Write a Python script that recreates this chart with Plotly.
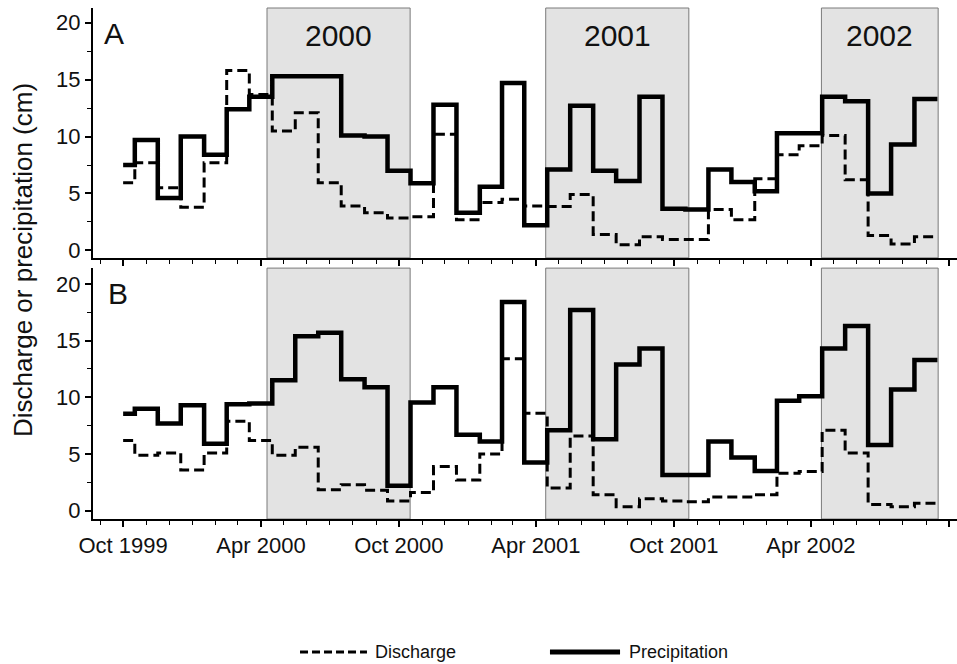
import pandas as pd
import plotly.graph_objects as go

# Monthly totals, Oct 1999 - Sep 2002 (cm)
months = pd.date_range("1999-10-01", "2002-09-01", freq="MS")

precip_a = [7.5, 9.7, 4.6, 10.0, 8.4, 12.4, 13.5, 15.3, 15.3, 15.3, 10.1, 10.0,
            7.0, 5.9, 12.8, 3.3, 5.6, 14.7, 2.2, 7.1, 12.7, 7.0, 6.1, 13.5,
            3.65, 3.6, 7.1, 6.0, 5.2, 10.3, 10.3, 13.5, 13.1, 5.0, 9.3, 13.3]
discharge_a = [5.95, 7.7, 5.5, 3.8, 7.7, 15.8, 13.7, 10.5, 12.1, 5.95, 3.9, 3.3,
               2.85, 2.95, 10.2, 2.7, 4.2, 4.5, 3.9, 3.85, 4.9, 1.4, 0.5, 1.2,
               0.95, 0.95, 3.6, 2.7, 6.3, 8.4, 9.2, 10.1, 6.2, 1.3, 0.55, 1.2]
precip_b = [8.55, 9.0, 7.7, 9.3, 5.9, 9.4, 9.45, 11.5, 15.4, 15.7, 11.6, 10.9,
            2.2, 9.55, 10.9, 6.7, 6.1, 18.4, 4.25, 7.1, 17.7, 6.3, 12.9, 14.3,
            3.15, 3.15, 6.1, 4.7, 3.5, 9.7, 10.1, 14.3, 16.3, 5.8, 10.7, 13.3]
discharge_b = [6.2, 4.9, 5.1, 3.6, 5.1, 7.9, 6.2, 4.9, 5.6, 1.85, 2.3, 1.8,
               0.85, 1.6, 3.9, 2.7, 5.0, 13.4, 8.6, 2.0, 6.6, 1.4, 0.35, 1.05,
               0.85, 0.8, 1.2, 1.2, 1.4, 3.3, 3.45, 7.1, 5.1, 0.55, 0.35, 0.65]

# Growing seasons shaded on both panels
season_labels = ["2000", "2001", "2002"]
season_starts = ["2000-04-09", "2001-04-14", "2002-04-15"]
season_ends = ["2000-10-16", "2001-10-21", "2002-09-17"]

FONT = "Arial, Liberation Sans, sans-serif"
INK = "#111111"

# each monthly value is held for half a month either side of its date
x_steps = list(months) + [months[-1] + pd.Timedelta(days=15)]


def steps(vals):
    return list(vals) + [vals[-1]]


fig = go.Figure()

panels = [("x", "y", precip_a, discharge_a), ("x2", "y2", precip_b, discharge_b)]
for xa, ya, pr, dq in panels:
    fig.add_trace(go.Scatter(
        x=x_steps, y=steps(dq), mode="lines", line_shape="hvh",
        line=dict(color="black", width=3, dash="10px,5px"),
        xaxis=xa, yaxis=ya, showlegend=False, name="Discharge"))
    fig.add_trace(go.Scatter(
        x=x_steps, y=steps(pr), mode="lines", line_shape="hvh",
        line=dict(color="black", width=4.5),
        xaxis=xa, yaxis=ya, showlegend=False, name="Precipitation"))

shapes = []
annotations = []
for lab, s0, s1 in zip(season_labels, season_starts, season_ends):
    for xa, ya in (("x", "y"), ("x2", "y2")):
        shapes.append(dict(type="rect", xref=xa, yref=f"{ya} domain",
                           x0=s0, x1=s1, y0=0, y1=1, layer="below",
                           fillcolor="#e3e3e3",
                           line=dict(color="#7a7a7a", width=1)))
    mid = pd.Timestamp(s0) + (pd.Timestamp(s1) - pd.Timestamp(s0)) / 2
    annotations.append(dict(x=mid, y=0.888, xref="x", yref="y domain",
                            xanchor="center", yanchor="middle",
                            text=lab, showarrow=False,
                            font=dict(family=FONT, size=30, color=INK)))

# panel letters
annotations.append(dict(x=0.0243, y=0.951, xref="paper", yref="paper", text="A",
                        xanchor="center", yanchor="middle", showarrow=False,
                        font=dict(family=FONT, size=30, color=INK)))
annotations.append(dict(x=0.0284, y=0.442, xref="paper", yref="paper", text="B",
                        xanchor="center", yanchor="middle", showarrow=False,
                        font=dict(family=FONT, size=30, color=INK)))

# shared y title
annotations.append(dict(x=-0.081, y=0.507, xref="paper", yref="paper",
                        xanchor="center", yanchor="middle",
                        text="Discharge or precipitation (cm)", textangle=-90,
                        showarrow=False, font=dict(family=FONT, size=26, color=INK)))

# legend drawn below the panels
LEG_Y = -0.2603
shapes.append(dict(type="line", xref="paper", yref="paper", x0=0.2396, x1=0.3171,
                   y0=LEG_Y, y1=LEG_Y,
                   line=dict(color="black", width=3, dash="8px,4px")))
shapes.append(dict(type="line", xref="paper", yref="paper", x0=0.5289, x1=0.6100,
                   y0=LEG_Y, y1=LEG_Y, line=dict(color="black", width=5)))
annotations.append(dict(x=0.3241, y=LEG_Y, xref="paper", yref="paper",
                        text="Discharge", xanchor="left", yanchor="middle",
                        showarrow=False,
                        font=dict(family=FONT, size=18, color=INK)))
annotations.append(dict(x=0.6181, y=LEG_Y, xref="paper", yref="paper",
                        text="Precipitation", xanchor="left", yanchor="middle",
                        showarrow=False,
                        font=dict(family=FONT, size=18, color=INK)))

xcommon = dict(
    type="date", range=["1999-08-22", "2002-10-12"],
    tick0="1999-10-01", dtick="M6", tickformat="%b %Y",
    ticks="outside", ticklen=6, tickwidth=1.5, tickcolor="black",
    minor=dict(dtick="M1", ticks="outside", ticklen=4, tickwidth=1.2, tickcolor="black"),
    showline=True, linecolor="black", linewidth=2,
    showgrid=False, zeroline=False,
    tickfont=dict(family=FONT, size=22, color=INK),
)
ycommon = dict(
    tick0=0, dtick=5,
    ticks="outside", ticklen=6, tickwidth=1.5, tickcolor="black",
    minor=dict(dtick=2.5, ticks="outside", ticklen=4, tickwidth=1.2, tickcolor="black"),
    showline=True, linecolor="black", linewidth=2,
    showgrid=False, zeroline=False,
    tickfont=dict(family=FONT, size=22, color=INK),
)

fig.update_layout(
    width=957, height=664,
    margin=dict(l=93, r=0, t=8, b=145),
    paper_bgcolor="white", plot_bgcolor="white",
    showlegend=False,
    xaxis=dict(xcommon, anchor="y", showticklabels=False),
    yaxis=dict(ycommon, domain=[0.511, 1.0], range=[-0.66, 21.3], anchor="x"),
    xaxis2=dict(xcommon, anchor="y2", matches="x"),
    yaxis2=dict(ycommon, domain=[0.0, 0.491], range=[-0.73, 21.4], anchor="x2"),
    shapes=shapes,
    annotations=annotations,
)

fig.write_html("out.html")
